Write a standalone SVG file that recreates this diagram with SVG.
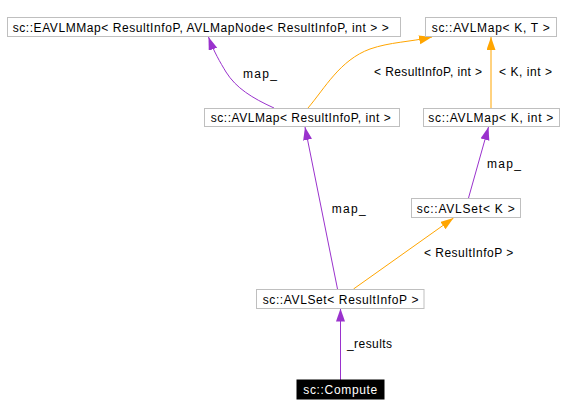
<svg xmlns="http://www.w3.org/2000/svg" width="564" height="417" viewBox="0 0 564 417">
<style>
text{font-family:"Liberation Sans",Arial,sans-serif;font-size:12px;fill:#000}
.box{fill:#fff;stroke:#bfbfbf;stroke-width:1}
.dark{fill:#000;stroke:#000}
.wt{fill:#fff}
.p{fill:none;stroke:#9a32cd;stroke-width:1}
.o{fill:none;stroke:#ffa500;stroke-width:1}
</style>
<defs>
<marker id="ap" markerUnits="userSpaceOnUse" markerWidth="14" markerHeight="10" refX="13" refY="4.5" orient="auto"><path d="M0,0 L13,4.5 L0,9 z" fill="#9a32cd"/></marker>
<marker id="ao" markerUnits="userSpaceOnUse" markerWidth="14" markerHeight="10" refX="13" refY="4.5" orient="auto"><path d="M0,0 L13,4.5 L0,9 z" fill="#ffa500"/></marker>
</defs>
<rect width="564" height="417" fill="#fff"/>
<g id="connectors">
<path class="p" d="M274,108 C252,98 236,88 226,72 C220,62 214,52 208.5,37" marker-end="url(#ap)"/>
<path class="o" d="M308,108 C325,88 340,60 370,49 C390,42 410,42 432,37" marker-end="url(#ao)"/>
<path class="o" d="M491,108.5 L491,37" marker-end="url(#ao)"/>
<path class="p" d="M468.5,198 L488.5,127" marker-end="url(#ap)"/>
<path class="p" d="M337.5,289 L305,127" marker-end="url(#ap)"/>
<path class="o" d="M353.5,289 L453.5,218" marker-end="url(#ao)"/>
<path class="p" d="M340.5,380 L340.5,308.5" marker-end="url(#ap)"/>
<text x="243" y="78" textLength="34" lengthAdjust="spacing">map_</text>
<text x="374" y="76" textLength="108" lengthAdjust="spacing">&lt; ResultInfoP, int &gt;</text>
<text x="499" y="76" textLength="53" lengthAdjust="spacing">&lt; K, int &gt;</text>
<text x="487" y="167.5" textLength="34" lengthAdjust="spacing">map_</text>
<text x="331.7" y="213.3" textLength="34" lengthAdjust="spacing">map_</text>
<text x="424" y="256.7" textLength="89.3" lengthAdjust="spacing">&lt; ResultInfoP &gt;</text>
<text x="347" y="348.3" textLength="45" lengthAdjust="spacing">_results</text>
</g>
<g id="n1"><rect class="box" x="7.5" y="17.5" width="393" height="19"/><text x="12.7" y="32" textLength="376" lengthAdjust="spacing">sc::EAVLMMap&lt; ResultInfoP, AVLMapNode&lt; ResultInfoP, int &gt; &gt;</text></g>
<g id="n2"><rect class="box" x="425.5" y="17.5" width="131" height="19"/><text x="431.7" y="32" textLength="118" lengthAdjust="spacing">sc::AVLMap&lt; K, T &gt;</text></g>
<g id="n3"><rect class="box" x="204.5" y="108.5" width="195" height="18"/><text x="210.7" y="122" textLength="180" lengthAdjust="spacing">sc::AVLMap&lt; ResultInfoP, int &gt;</text></g>
<g id="n4"><rect class="box" x="423.5" y="108.5" width="136" height="18"/><text x="428.3" y="122" textLength="125" lengthAdjust="spacing">sc::AVLMap&lt; K, int &gt;</text></g>
<g id="n5"><rect class="box" x="411.5" y="198.5" width="109" height="19"/><text x="416.7" y="213" textLength="98" lengthAdjust="spacing">sc::AVLSet&lt; K &gt;</text></g>
<g id="n6"><rect class="box" x="256.5" y="289.5" width="167.5" height="19"/><text x="262.7" y="304" textLength="155.7" lengthAdjust="spacing">sc::AVLSet&lt; ResultInfoP &gt;</text></g>
<g id="n7"><rect class="dark" x="297" y="380" width="87" height="19"/><text class="wt" x="303.3" y="394" textLength="74" lengthAdjust="spacing">sc::Compute</text></g>
</svg>
